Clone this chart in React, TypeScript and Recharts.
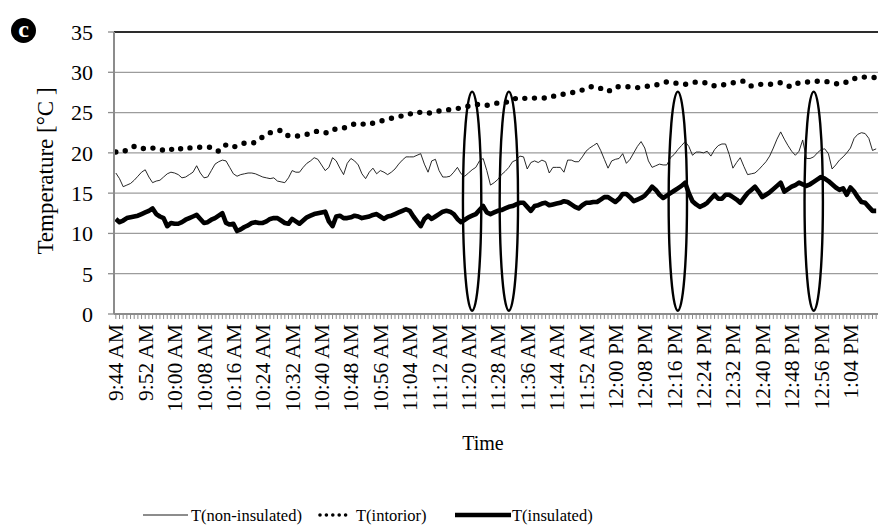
import React from 'react';
import { LineChart, Line, XAxis, YAxis, CartesianGrid, ReferenceLine, ReferenceArea, Legend } from 'recharts';

const FONT = '"Liberation Serif", "Times New Roman", serif';

// categories: one reading per minute from 9:44 AM
const START_MINUTE = 9 * 60 + 44;
const POINT_COUNT = 208;
const fmtTime = (m: number) => {
  const h = Math.floor(m / 60);
  const mm = m % 60;
  const h12 = h % 12 === 0 ? 12 : h % 12;
  return `${h12}:${mm < 10 ? '0' + mm : mm} ${h >= 12 ? 'PM' : 'AM'}`;
};
const times: string[] = Array.from({ length: POINT_COUNT }, (_, i) => fmtTime(START_MINUTE + i));

const nonInsulated = [
  17.5, 16.8, 15.8, 16.0, 16.2, 16.6, 17.1, 17.6, 17.9, 17.0,
  16.3, 16.5, 16.6, 17.0, 17.4, 17.6, 17.5, 17.3, 16.9, 17.0,
  17.3, 17.6, 18.4, 17.5, 16.9, 17.0, 17.8, 18.6, 18.9, 19.1,
  19.0, 18.2, 17.4, 17.1, 17.3, 17.4, 17.5, 17.5, 17.4, 17.2,
  17.0, 16.9, 16.8, 16.9, 16.5, 16.4, 16.3, 16.9, 17.8, 17.6,
  17.6, 18.2, 18.7, 19.0, 19.4, 19.2, 18.5, 17.8, 18.2, 19.4,
  19.0, 18.1, 17.3, 18.7, 19.3, 19.0, 18.5, 17.4, 16.8, 17.6,
  18.1, 17.4, 17.8, 17.6, 17.3, 17.6, 18.0, 18.6, 19.1, 19.5,
  19.5, 19.5, 19.7, 19.9, 18.6, 17.6, 19.0, 19.2, 17.8, 17.0,
  17.0, 17.1, 17.6, 18.2, 17.4, 17.1, 17.5, 17.9, 18.2, 19.0,
  19.3, 17.8, 16.0, 16.3, 16.7, 17.3, 17.7, 18.2, 18.9, 19.1,
  19.6, 19.5, 18.0, 18.8, 19.0, 18.8, 19.1, 18.9, 17.5, 18.2,
  18.2, 18.2, 17.6, 19.1, 19.1, 18.9, 18.9, 19.5, 20.2, 20.6,
  20.9, 21.2, 20.3, 19.2, 18.1, 19.0, 19.2, 19.3, 19.9, 18.7,
  19.2, 20.0, 20.8, 21.4, 20.6, 19.0, 18.2, 18.4, 18.6, 18.5,
  18.5, 19.4, 19.8, 20.4, 20.9, 21.4, 20.8, 19.7, 20.1, 20.1,
  20.0, 20.2, 19.6, 20.4, 20.9, 21.1, 21.1, 19.8, 18.1, 18.8,
  19.4, 18.3, 17.3, 17.4, 17.5, 17.9, 18.4, 18.9, 19.6, 20.6,
  21.7, 22.6, 21.7, 20.9, 20.2, 19.7, 20.2, 21.6, 19.3, 19.3,
  19.5, 20.0, 20.4, 20.5, 19.9, 18.0, 18.5, 19.1, 19.5, 20.0,
  20.6, 21.8, 22.3, 22.5, 22.4, 21.8, 20.3, 20.5,
];

const interior = [
  20.1, 20.1, 20.1, 20.4, 20.6, 20.8, 20.6, 20.5, 20.6, 20.7,
  20.6, 20.5, 20.5, 20.3, 20.2, 20.4, 20.6, 20.7, 20.4, 20.5,
  20.6, 20.7, 20.7, 20.7, 20.7, 20.7, 20.7, 20.4, 20.2, 20.6,
  21.0, 20.8, 20.7, 20.9, 21.1, 21.2, 21.2, 21.2, 21.3, 21.6,
  22.0, 22.3, 22.5, 22.6, 22.7, 22.8, 22.4, 22.1, 22.1, 22.1,
  22.1, 22.2, 22.3, 22.4, 22.6, 22.7, 22.6, 22.5, 22.5, 22.8,
  23.0, 23.1, 23.1, 23.2, 23.4, 23.6, 23.7, 23.6, 23.5, 23.5,
  23.7, 23.8, 23.9, 24.1, 24.2, 24.3, 24.4, 24.5, 24.6, 24.6,
  24.8, 25.0, 25.1, 25.0, 24.9, 24.9, 25.0, 25.1, 25.2, 25.2,
  25.3, 25.4, 25.4, 25.5, 25.6, 25.7, 25.8, 25.9, 26.0, 26.0,
  26.0, 25.9, 26.0, 26.1, 26.2, 26.2, 26.3, 26.3, 26.5, 26.8,
  26.9, 26.8, 26.7, 26.7, 26.8, 26.8, 26.8, 26.8, 26.8, 27.0,
  27.2, 27.2, 27.3, 27.4, 27.5, 27.5, 27.6, 27.8, 28.0, 28.2,
  28.2, 28.2, 28.0, 27.8, 27.6, 27.9, 28.2, 28.2, 28.2, 28.2,
  28.2, 28.1, 28.1, 28.1, 28.2, 28.3, 28.3, 28.4, 28.6, 28.7,
  28.8, 28.8, 28.7, 28.6, 28.5, 28.5, 28.6, 28.7, 28.8, 28.8,
  28.7, 28.7, 28.5, 28.3, 28.3, 28.4, 28.5, 28.6, 28.7, 28.8,
  28.9, 28.9, 28.5, 28.3, 28.4, 28.5, 28.5, 28.5, 28.5, 28.6,
  28.7, 28.7, 28.6, 28.3, 28.2, 28.5, 28.7, 28.8, 28.8, 28.8,
  28.8, 28.9, 28.9, 28.9, 28.8, 28.7, 28.6, 28.5, 28.6, 28.8,
  28.9, 29.2, 29.4, 29.4, 29.4, 29.4, 29.4, 29.3,
];

const insulated = [
  11.8, 11.4, 11.6, 11.9, 12.0, 12.1, 12.2, 12.4, 12.6, 12.8,
  13.1, 12.4, 12.1, 11.9, 10.9, 11.3, 11.2, 11.2, 11.4, 11.7,
  11.9, 12.1, 12.3, 11.8, 11.3, 11.4, 11.7, 11.9, 12.2, 12.5,
  11.3, 11.1, 11.2, 10.3, 10.5, 10.8, 11.0, 11.3, 11.4, 11.3,
  11.3, 11.5, 11.8, 11.9, 11.9, 11.6, 11.3, 11.2, 11.8, 11.5,
  11.2, 11.6, 12.0, 12.2, 12.4, 12.5, 12.6, 12.7, 11.5, 10.9,
  12.1, 12.2, 11.9, 11.9, 12.0, 12.2, 12.1, 11.9, 12.0, 12.1,
  12.3, 12.4, 12.1, 11.8, 12.1, 12.2, 12.4, 12.6, 12.8, 13.0,
  12.8, 12.1, 11.5, 10.9, 11.8, 12.2, 11.8, 12.1, 12.4, 12.7,
  12.8, 12.7, 12.4, 11.8, 11.4, 11.7, 12.0, 12.2, 12.4, 12.9,
  13.4, 12.6, 12.4, 12.6, 12.8, 12.9, 13.1, 13.3, 13.4, 13.6,
  13.8, 13.8, 13.3, 12.8, 13.4, 13.5, 13.7, 13.8, 13.5, 13.6,
  13.7, 13.8, 14.0, 13.9, 13.6, 13.3, 13.1, 13.5, 13.8, 13.8,
  13.9, 13.9, 14.2, 14.5, 14.5, 14.2, 13.9, 14.3, 14.9, 14.9,
  14.5, 14.0, 14.2, 14.4, 14.7, 15.2, 15.8, 15.4, 14.8, 14.4,
  14.7, 15.0, 15.3, 15.6, 15.9, 16.3, 15.0, 14.0, 13.6, 13.3,
  13.5, 13.8, 14.3, 14.8, 14.3, 14.3, 14.8, 14.8, 14.5, 14.2,
  13.8, 14.4, 15.0, 15.4, 15.8, 15.2, 14.5, 14.8, 15.1, 15.5,
  15.9, 16.3, 15.2, 15.5, 15.8, 16.0, 16.3, 16.1, 15.9, 16.1,
  16.4, 16.7, 17.0, 16.8, 16.5, 16.1, 15.7, 15.4, 15.6, 14.8,
  15.7, 15.2, 14.5, 13.9, 13.8, 13.3, 12.8, 12.8,
];

const yTicks = [0, 5, 10, 15, 20, 25, 30, 35];

// highlighted time windows (ellipse annotations)
const highlightFrom = ['11:19 AM', '11:29 AM', '12:15 PM', '12:52 PM'];
const highlightTo = ['11:23 AM', '11:33 AM', '12:19 PM', '12:56 PM'];
const highlightBottom = 0.4;
const highlightTop = 27.6;

const data = times.map((t, i) => ({
  time: t,
  nonInsulated: nonInsulated[i],
  interior: interior[i],
  insulated: insulated[i],
}));

const LABEL_EVERY = 8;

function TimeTick(props: any) {
  const { x, y, payload } = props;
  const idx = payload?.index ?? props.index;
  if (idx % LABEL_EVERY !== 0) return null;
  return (
    <text
      x={x}
      y={y}
      dy="0.35em"
      textAnchor="end"
      transform={`rotate(-90 ${x} ${y})`}
      fontSize={21.5}
      fontFamily={FONT}
      fill="#000"
    >
      {payload.value}
    </text>
  );
}

function YTitle(props: any) {
  const vb = props.viewBox || {};
  const cx = vb.x + 45;
  const cy = vb.y + vb.height / 2 - 2;
  return (
    <text
      x={cx}
      y={cy}
      transform={`rotate(-90 ${cx} ${cy})`}
      textAnchor="middle"
      dominantBaseline="central"
      fontSize={23}
      fontFamily={FONT}
      fill="#000"
    >
      Temperature [°C ]
    </text>
  );
}

function XTitle(props: any) {
  const vb = props.viewBox || {};
  const cx = vb.x + vb.width / 2 - 13;
  const cy = vb.y + 129;
  return (
    <text x={cx} y={cy} textAnchor="middle" dominantBaseline="central" fontSize={20} fontFamily={FONT} fill="#000">
      Time
    </text>
  );
}

function EllipseShape(props: any) {
  const { x, y, width, height } = props;
  return (
    <ellipse
      cx={x + width / 2}
      cy={y + height / 2}
      rx={width / 2}
      ry={height / 2}
      fill="none"
      stroke="#000"
      strokeWidth={2.4}
    />
  );
}

function LegendContent() {
  const cy = 33;
  return (
    <svg width={878} height={50} style={{ display: 'block' }}>
      <g fontFamily={FONT} fontSize={16.5} fill="#000">
        <line x1={143} x2={188} y1={cy} y2={cy} stroke="#000" strokeWidth={0.9} />
        <text x={191} y={cy} dominantBaseline="central">T(non-insulated)</text>
        <line x1={320} x2={352} y1={cy} y2={cy} stroke="#000" strokeWidth={3.6} strokeDasharray="0 6.4" strokeLinecap="round" />
        <text x={356} y={cy} dominantBaseline="central">T(intorior)</text>
        <line x1={455} x2={511} y1={cy} y2={cy} stroke="#000" strokeWidth={4.5} />
        <text x={512} y={cy} dominantBaseline="central">T(insulated)</text>
      </g>
    </svg>
  );
}

export default function App() {
  return (
    <div style={{ position: 'absolute', left: 0, top: 0, width: 878, height: 532, background: '#fff' }}>
      <div
        style={{
          position: 'absolute',
          left: 11,
          top: 18,
          width: 25,
          height: 25,
          borderRadius: '50%',
          background: '#000',
          color: '#fff',
          fontFamily: FONT,
          fontWeight: 'bold',
          fontSize: 24,
          lineHeight: '22px',
          textAlign: 'center',
          zIndex: 2,
        }}
      >
        c
      </div>
      <LineChart
        width={878}
        height={532}
        data={data}
        margin={{ top: 32, right: 0, bottom: 0, left: 0 }}
      >
        <CartesianGrid vertical={false} stroke="#9c9c9c" strokeWidth={1.3} />
        <XAxis
          dataKey="time"
          scale="band"
          interval={0}
          height={168}
          tick={<TimeTick />}
          tickSize={5}
          tickMargin={5}
          tickLine={{ stroke: '#8c8c8c', strokeWidth: 1 }}
          axisLine={{ stroke: '#8c8c8c', strokeWidth: 2 }}
          label={<XTitle />}
        />
        <YAxis
          domain={[0, 35]}
          ticks={yTicks}
          width={114}
          tickSize={6}
          tickMargin={15}
          tick={{ fontSize: 22, fontFamily: FONT, fill: '#000' }}
          tickLine={{ stroke: '#8c8c8c', strokeWidth: 1.3 }}
          axisLine={{ stroke: '#8c8c8c', strokeWidth: 2 }}
          label={<YTitle />}
        />
        <ReferenceLine y={35} stroke="#000" strokeWidth={1.6} />
        <Line
          type="linear"
          dataKey="nonInsulated"
          stroke="#111"
          strokeWidth={0.9}
          dot={false}
          isAnimationActive={false}
        />
        <Line
          type="linear"
          dataKey="interior"
          stroke="#000"
          strokeWidth={5.4}
          strokeDasharray="0 9.8"
          strokeLinecap="round"
          dot={false}
          isAnimationActive={false}
        />
        <Line
          type="linear"
          dataKey="insulated"
          stroke="#000"
          strokeWidth={4.6}
          strokeLinejoin="round"
          dot={false}
          isAnimationActive={false}
        />
        {highlightFrom.map((from, i) => (
          <ReferenceArea
            key={from}
            x1={from}
            x2={highlightTo[i]}
            y1={highlightBottom}
            y2={highlightTop}
            shape={<EllipseShape />}
          />
        ))}
        <Legend
          verticalAlign="bottom"
          height={50}
          content={<LegendContent />}
          wrapperStyle={{ left: 0, bottom: 0, width: 878, height: 50 }}
        />
      </LineChart>
    </div>
  );
}
